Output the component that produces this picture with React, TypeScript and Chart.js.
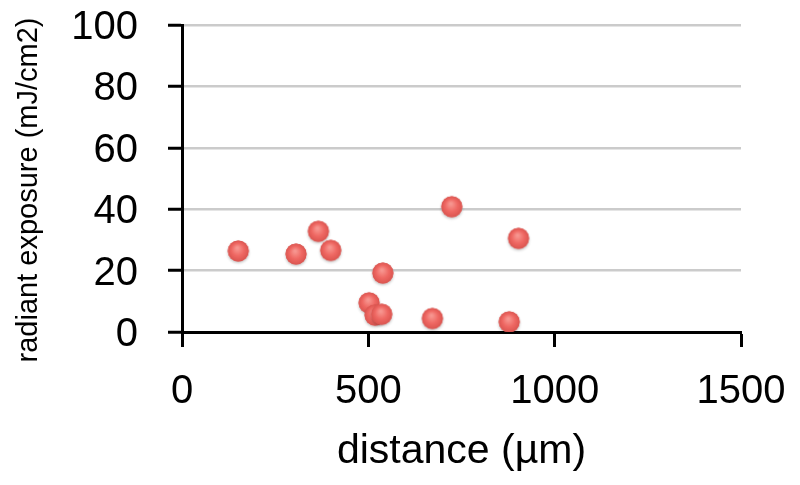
import React, { useEffect, useRef } from 'react';
import { Chart, registerables } from 'chart.js';

Chart.register(...registerables);

// ---- data ----
const distanceUm = [151, 306, 366, 399, 539, 502, 518, 536, 672, 724, 903, 878];
const radiantExposure = [26.4, 25.4, 32.8, 26.6, 19.2, 9.5, 5.5, 5.8, 4.4, 40.8, 30.5, 3.3];
const xTickValues = [0, 500, 1000, 1500];
const yTickValues = [0, 20, 40, 60, 80, 100];
const xTitle = 'distance (\u00B5m)';
const yTitle = 'radiant exposure (mJ/cm2)';

const FONT = '"Liberation Sans", Arial, Helvetica, sans-serif';

function makePointImage(): HTMLCanvasElement {
  const c = document.createElement('canvas');
  c.width = 30;
  c.height = 30;
  const g = c.getContext('2d')!;
  const cx = 15, cy = 15, r = 10.5;
  g.save();
  g.shadowColor = 'rgba(0,0,0,0.25)';
  g.shadowBlur = 3;
  g.shadowOffsetY = 1.5;
  g.beginPath();
  g.arc(cx, cy, r, 0, Math.PI * 2);
  g.fillStyle = '#df5a55';
  g.fill();
  g.restore();
  const grad = g.createRadialGradient(cx - 1, cy - 3, 1, cx, cy, r);
  grad.addColorStop(0, '#f7958f');
  grad.addColorStop(0.55, '#ef6863');
  grad.addColorStop(1, '#db5550');
  g.beginPath();
  g.arc(cx, cy, r, 0, Math.PI * 2);
  g.fillStyle = grad;
  g.fill();
  return c;
}

const titlePlugin = {
  id: 'axisTitles',
  afterDraw(chart: any) {
    const { ctx, chartArea } = chart;
    ctx.save();
    ctx.fillStyle = '#000';
    ctx.font = `41px ${FONT}`;
    ctx.textAlign = 'center';
    ctx.textBaseline = 'alphabetic';
    ctx.fillText(xTitle, (chartArea.left + chartArea.right) / 2, 463);
    ctx.font = `29px ${FONT}`;
    ctx.translate(37, 190);
    ctx.rotate(-Math.PI / 2);
    ctx.textAlign = 'center';
    ctx.textBaseline = 'alphabetic';
    ctx.fillText(yTitle, 0, 0);
    ctx.restore();
  },
};

export default function App() {
  const ref = useRef<HTMLCanvasElement | null>(null);

  useEffect(() => {
    if (!ref.current) return;
    const pointImg = makePointImage();
    const chart = new Chart(ref.current, {
      type: 'scatter',
      data: {
        datasets: [
          {
            data: distanceUm.map((x, i) => ({ x, y: radiantExposure[i] })),
            pointStyle: pointImg as any,
            pointRadius: 10,
            backgroundColor: '#ec625d',
          },
        ],
      },
      options: {
        animation: false,
        responsive: false,
        events: [],
        layout: { padding: { left: 0, top: 25, right: 59, bottom: 0 } },
        plugins: {
          legend: { display: false },
          tooltip: { enabled: false },
        },
        scales: {
          x: {
            type: 'linear',
            min: 0,
            max: 1500,
            afterBuildTicks: (s: any) => {
              s.ticks = xTickValues.map((v) => ({ value: v }));
            },
            afterFit: (s: any) => {
              s.height = 153;
              s.paddingLeft = 0;
              s.paddingRight = 0;
            },
            ticks: {
              color: '#000',
              font: { family: FONT, size: 40 },
              padding: 21,
              maxRotation: 0,
              autoSkip: false,
              callback: (v: any) => String(v),
            },
            grid: {
              drawOnChartArea: false,
              drawTicks: true,
              tickLength: 15,
              tickColor: '#000',
              tickWidth: 3,
            },
            border: { color: '#000', width: 3 },
          },
          y: {
            type: 'linear',
            min: 0,
            max: 100,
            afterBuildTicks: (s: any) => {
              s.ticks = yTickValues.map((v) => ({ value: v }));
            },
            afterFit: (s: any) => {
              s.width = 182;
              s.paddingTop = 0;
              s.paddingBottom = 0;
            },
            ticks: {
              color: '#000',
              font: { family: FONT, size: 40 },
              padding: 30,
              labelOffset: 3,
              autoSkip: false,
              callback: (v: any) => String(v),
            },
            grid: {
              color: '#cbcbcb',
              lineWidth: 2.5,
              drawTicks: true,
              tickLength: 14,
              tickColor: '#000',
              tickWidth: 3,
            },
            border: { color: '#000', width: 3 },
          },
        },
      },
      plugins: [titlePlugin],
    });
    return () => chart.destroy();
  }, []);

  return (
    <div style={{ position: 'fixed', left: 0, top: 0, width: 800, height: 485, background: '#fff' }}>
      <canvas ref={ref} width={800} height={485} style={{ display: 'block' }} />
    </div>
  );
}
